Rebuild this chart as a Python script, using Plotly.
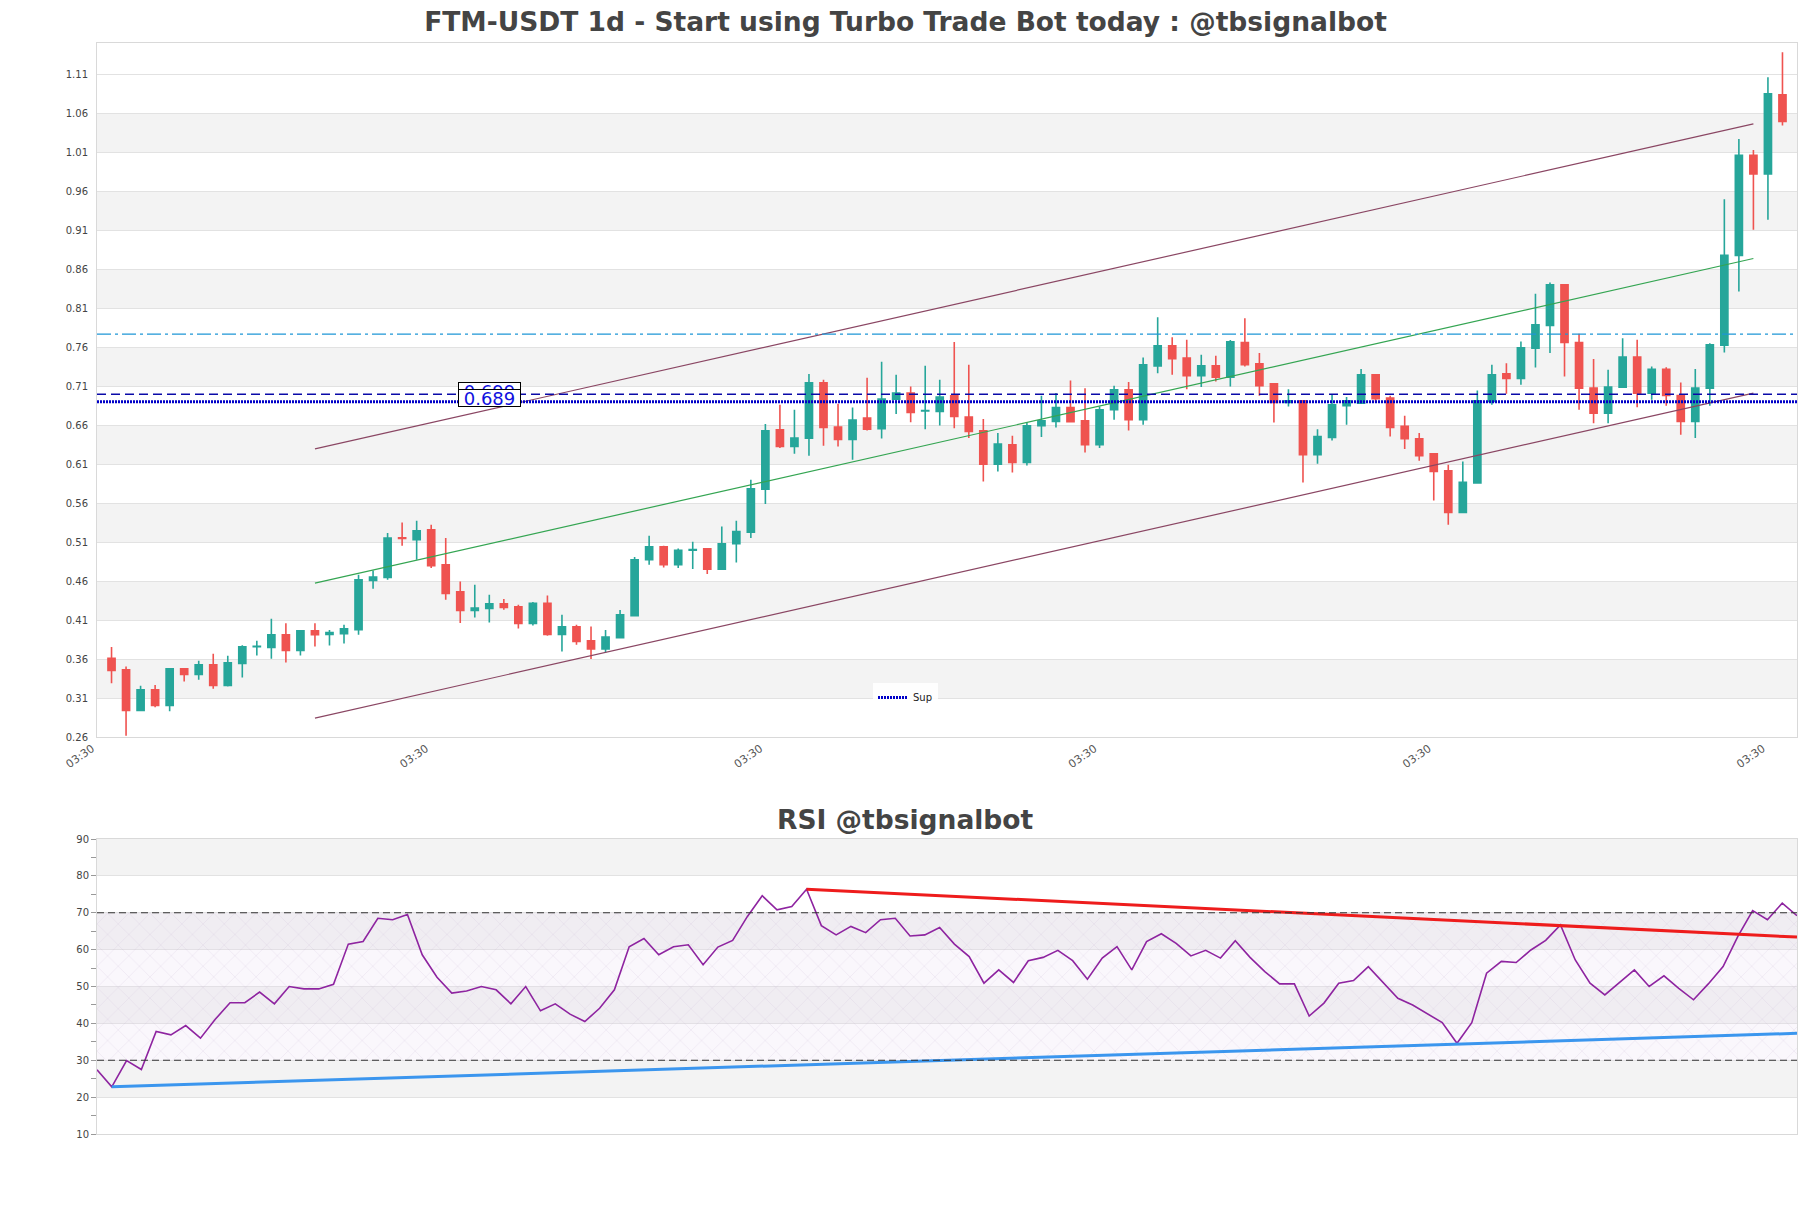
import pandas as pd
import plotly.graph_objects as go

# ---------------- data ----------------
start_date = "2023-11-14 03:30"
opens = [0.3610, 0.3463, 0.2942, 0.3206, 0.3006, 0.3475, 0.3403, 0.3527, 0.3262, 0.3544,
         0.3757, 0.3749, 0.3911, 0.3710, 0.3962, 0.3915, 0.3924, 0.3975, 0.4607, 0.4647,
         0.5155, 0.5130, 0.5258, 0.4809, 0.4463, 0.4223, 0.4248, 0.4309, 0.4271, 0.4057,
         0.4313, 0.3916, 0.4014, 0.3835, 0.3728, 0.3873, 0.4155, 0.4873, 0.5040, 0.4809,
         0.4995, 0.5014, 0.4753, 0.5078, 0.5228, 0.5779, 0.6540, 0.6326, 0.6433, 0.7142,
         0.6574, 0.6416, 0.6689, 0.6553, 0.6933, 0.7010, 0.6780, 0.6775, 0.6976, 0.6702,
         0.6527, 0.6100, 0.6347, 0.6121, 0.6591, 0.6647, 0.6826, 0.6655, 0.6347, 0.6796,
         0.7053, 0.6668, 0.7360, 0.7617, 0.7459, 0.7232, 0.7360, 0.7215, 0.7659, 0.7386,
         0.7130, 0.6890, 0.6912, 0.6219, 0.6442, 0.6848, 0.6882, 0.7245, 0.6946, 0.6583,
         0.6424, 0.6232, 0.6014, 0.5480, 0.5857, 0.6903, 0.7258, 0.7198, 0.7587, 0.7877,
         0.8399, 0.7659, 0.7074, 0.6753, 0.7087, 0.7471, 0.7010, 0.7317, 0.6980, 0.6647,
         0.7074, 0.7625, 0.8775, 1.0061, 0.9822, 1.0835]
highs = [0.3753, 0.3505, 0.3258, 0.3266, 0.3484, 0.3484, 0.3578, 0.3668, 0.3642, 0.3778,
         0.3834, 0.4116, 0.4060, 0.3971, 0.4060, 0.3971, 0.4039, 0.4680, 0.4735, 0.5215,
         0.5352, 0.5373, 0.5322, 0.5151, 0.4595, 0.4552, 0.4424, 0.4369, 0.4296, 0.4330,
         0.4416, 0.4168, 0.4040, 0.4018, 0.3971, 0.4228, 0.4907, 0.5181, 0.5053, 0.5018,
         0.5104, 0.5023, 0.5300, 0.5373, 0.5899, 0.6613, 0.6860, 0.6796, 0.7254, 0.7181,
         0.6873, 0.6826, 0.7206, 0.7411, 0.7245, 0.7095, 0.7360, 0.7181, 0.7664, 0.7373,
         0.6677, 0.6497, 0.6463, 0.6634, 0.6976, 0.7010, 0.7172, 0.7074, 0.6839, 0.7104,
         0.7151, 0.7467, 0.7984, 0.7728, 0.7694, 0.7501, 0.7488, 0.7690, 0.7971, 0.7523,
         0.7135, 0.7061, 0.6915, 0.6548, 0.6989, 0.6959, 0.7318, 0.7250, 0.6976, 0.6719,
         0.6497, 0.6241, 0.6091, 0.6134, 0.7044, 0.7373, 0.7394, 0.7672, 0.8283, 0.8430,
         0.8405, 0.7770, 0.7446, 0.7309, 0.7715, 0.7694, 0.7352, 0.7343, 0.7147, 0.7318,
         0.7651, 0.9497, 1.0270, 1.0129, 1.1061, 1.1381]
lows = [0.3290, 0.2617, 0.2929, 0.2980, 0.2929, 0.3313, 0.3334, 0.3219, 0.3249, 0.3364,
        0.3646, 0.3603, 0.3557, 0.3646, 0.3761, 0.3774, 0.3800, 0.3911, 0.4500, 0.4617,
        0.5053, 0.4873, 0.4766, 0.4360, 0.4061, 0.4134, 0.4069, 0.4232, 0.3993, 0.4031,
        0.3899, 0.3698, 0.3783, 0.3599, 0.3685, 0.3869, 0.4147, 0.4809, 0.4775, 0.4766,
        0.4753, 0.4689, 0.4753, 0.4839, 0.5151, 0.5587, 0.6305, 0.6232, 0.6206, 0.6335,
        0.6326, 0.6155, 0.6531, 0.6429, 0.6741, 0.6638, 0.6548, 0.6595, 0.6561, 0.6433,
        0.5877, 0.6005, 0.5993, 0.6083, 0.6446, 0.6570, 0.6634, 0.6249, 0.6305, 0.6668,
        0.6530, 0.6604, 0.7266, 0.7245, 0.7061, 0.7087, 0.7160, 0.7095, 0.7352, 0.6976,
        0.6634, 0.6839, 0.5865, 0.6104, 0.6403, 0.6604, 0.6869, 0.6890, 0.6454, 0.6292,
        0.6142, 0.5634, 0.5322, 0.5480, 0.5857, 0.6860, 0.7001, 0.7117, 0.7339, 0.7523,
        0.7224, 0.6796, 0.6625, 0.6625, 0.7087, 0.6830, 0.6924, 0.6848, 0.6476, 0.6433,
        0.6848, 0.7531, 0.8313, 0.9104, 0.9232, 1.0441]
closes = [0.3454, 0.2942, 0.3206, 0.3006, 0.3475, 0.3403, 0.3527, 0.3262, 0.3552, 0.3757,
          0.3762, 0.3911, 0.3710, 0.3962, 0.3911, 0.3941, 0.3988, 0.4615, 0.4650, 0.5151,
          0.5145, 0.5245, 0.4796, 0.4441, 0.4223, 0.4253, 0.4309, 0.4262, 0.4057, 0.4313,
          0.3916, 0.4014, 0.3826, 0.3728, 0.3882, 0.4168, 0.4873, 0.5040, 0.4809, 0.4993,
          0.5005, 0.4753, 0.5078, 0.5236, 0.5783, 0.6527, 0.6326, 0.6433, 0.7142, 0.6570,
          0.6416, 0.6664, 0.6548, 0.6933, 0.7010, 0.6762, 0.6785, 0.6959, 0.6711, 0.6518,
          0.6100, 0.6356, 0.6121, 0.6591, 0.6655, 0.6826, 0.6642, 0.6347, 0.6796, 0.7053,
          0.6668, 0.7373, 0.7617, 0.7450, 0.7232, 0.7360, 0.7215, 0.7668, 0.7373, 0.7104,
          0.6890, 0.6912, 0.6219, 0.6454, 0.6860, 0.6912, 0.7245, 0.6937, 0.6570, 0.6424,
          0.6206, 0.6006, 0.5480, 0.5865, 0.6912, 0.7245, 0.7198, 0.7591, 0.7886, 0.8399,
          0.7659, 0.7074, 0.6753, 0.7087, 0.7471, 0.7010, 0.7317, 0.6980, 0.6647, 0.7074,
          0.7630, 0.8779, 1.0061, 0.9822, 1.0847, 1.0493]
rsi = [27.4, 22.8, 29.9, 27.5, 37.8, 36.9, 39.4, 36.0, 41.1, 45.6,
       45.6, 48.5, 45.3, 50.0, 49.35, 49.35, 50.6, 61.5, 62.2, 68.5,
       68.1, 69.5, 58.6, 52.5, 48.2, 48.8, 50.0, 49.1, 45.3, 50.0,
       43.4, 45.3, 42.5, 40.5, 44.1, 49.1, 60.8, 63.0, 58.6, 60.8,
       61.3, 55.9, 60.7, 62.5, 69.0, 74.6, 70.8, 71.7, 76.4, 66.5,
       64.0, 66.3, 64.6, 68.1, 68.5, 63.7, 64.0, 66.0, 61.5, 58.1,
       50.9, 54.5, 51.1, 57.0, 57.9, 59.8, 57.0, 52.0, 57.7, 60.8,
       54.5, 62.2, 64.3, 61.7, 58.3, 59.8, 57.7, 62.4, 57.9, 54.05,
       50.7, 50.7, 42.0, 45.5, 50.9, 51.6, 55.4, 51.1, 46.8, 45.0,
       42.7, 40.2, 34.6, 40.2, 53.6, 56.8, 56.5, 59.9, 62.5, 66.7,
       57.2, 50.9, 47.7, 51.1, 54.5, 50.0, 52.9, 49.5, 46.4, 50.7,
       55.4, 63.6, 70.6, 68.1, 72.6, 69.2]

# channel lines (start index, end index and values)
channel_idx = [14, 113]
channel_upper = [0.6295, 1.0463]
channel_mid = [0.4573, 0.8736]
channel_lower = [0.2843, 0.7010]

# horizontal levels
level_cyan = 0.7766
level_res = 0.6995
level_sup = 0.6900
label_res = "0.699"
label_sup = "0.689"
label_idx = 26

# RSI trend lines
rsi_red_idx = [48, 115]
rsi_red_vals = [76.4, 63.4]
rsi_blue_idx = [1, 115]
rsi_blue_vals = [22.8, 37.3]

tick_step_days = 23
price_range = [0.26, 1.15]
price_tick0 = 0.26
price_dtick = 0.05
rsi_range = [10, 90]

# ---------------- figure ----------------
dates = pd.date_range(pd.Timestamp(start_date), periods=len(opens), freq="D")
day = pd.Timedelta(days=1)
x_lo = dates[0] - day
x_hi = dates[-1] + day
tickvals = [x_lo + pd.Timedelta(days=tick_step_days * k) for k in range(6)]

FONT = "DejaVu Sans"
W, H = 1811, 1208
ml, mr, mt, mb = 97, 14, 43, 74
ph = H - mt - mb
main_bottom = (H - mb - 737) / ph
rsi_top = (H - mb - 839) / ph

fig = go.Figure()

fig.add_trace(go.Candlestick(
    x=dates, open=opens, high=highs, low=lows, close=closes,
    increasing=dict(line=dict(color="#26a69a", width=1.6), fillcolor="#26a69a"),
    decreasing=dict(line=dict(color="#ef5350", width=1.6), fillcolor="#ef5350"),
    showlegend=False, xaxis="x", yaxis="y", name="FTM-USDT"))

chan_x = [dates[i] for i in channel_idx]
for vals, col in [(channel_upper, "#8a4663"), (channel_mid, "#34a552"), (channel_lower, "#8a4663")]:
    fig.add_trace(go.Scatter(x=chan_x, y=vals, mode="lines",
                             line=dict(color=col, width=1.2),
                             showlegend=False, hoverinfo="skip", xaxis="x", yaxis="y"))

fig.add_trace(go.Scatter(x=[x_lo, x_hi], y=[level_sup, level_sup], mode="lines",
                         line=dict(color="#0000c8", width=3, dash="2px,1px"),
                         name="Sup", showlegend=True, xaxis="x", yaxis="y"))

# RSI hatch
fig.add_trace(go.Scatter(x=[dates[0], dates[-1], dates[-1], dates[0], dates[0]],
                         y=[30, 30, 70, 70, 30], mode="lines", fill="toself",
                         fillcolor="rgba(230,215,240,0.2)",
                         fillpattern=dict(shape="x", fgcolor="rgba(185,160,205,0.6)",
                                          size=15, solidity=0.06, fillmode="overlay"),
                         line=dict(width=0), showlegend=False, hoverinfo="skip",
                         xaxis="x2", yaxis="y2"))

fig.add_trace(go.Scatter(x=dates, y=rsi, mode="lines",
                         line=dict(color="#8e24a0", width=1.6),
                         showlegend=False, xaxis="x2", yaxis="y2", name="RSI"))
fig.add_trace(go.Scatter(x=[dates[i] for i in rsi_red_idx], y=rsi_red_vals, mode="lines",
                         line=dict(color="#ee1c1c", width=3),
                         showlegend=False, hoverinfo="skip", xaxis="x2", yaxis="y2"))
fig.add_trace(go.Scatter(x=[dates[i] for i in rsi_blue_idx], y=rsi_blue_vals, mode="lines",
                         line=dict(color="#3b96ee", width=3),
                         showlegend=False, hoverinfo="skip", xaxis="x2", yaxis="y2"))

shapes = []
# price bands
k = 0
while price_tick0 + price_dtick * (2 * k + 1) < price_range[1] - price_dtick:
    y0 = price_tick0 + price_dtick * (2 * k + 1)
    shapes.append(dict(type="rect", xref="x domain", yref="y", x0=0, x1=1,
                       y0=y0, y1=y0 + price_dtick, fillcolor="#f3f3f3",
                       line=dict(width=0), layer="below"))
    k += 1
for y0 in [20, 40, 60, 80]:
    shapes.append(dict(type="rect", xref="x2 domain", yref="y2", x0=0, x1=1,
                       y0=y0, y1=y0 + 10, fillcolor="#f3f3f3",
                       line=dict(width=0), layer="below"))
shapes.append(dict(type="line", xref="x domain", yref="y", x0=0, x1=1,
                   y0=level_cyan, y1=level_cyan,
                   line=dict(color="#1e96d6", width=1.3, dash="14px,4px,3px,4px")))
shapes.append(dict(type="line", xref="x domain", yref="y", x0=0, x1=1,
                   y0=level_res, y1=level_res,
                   line=dict(color="#0a0aa8", width=1.5, dash="9px,5px")))
for lv in [30, 70]:
    shapes.append(dict(type="line", xref="x2 domain", yref="y2", x0=0, x1=1,
                       y0=lv, y1=lv, line=dict(color="#333333", width=1.2, dash="7px,4px")))

annotations = [
    dict(x=dates[label_idx], y=level_res + 0.0048, xref="x", yref="y", text=label_res,
         showarrow=False, font=dict(family=FONT, size=18, color="#1010e0"),
         width=61, height=16, align="center",
         bgcolor="white", bordercolor="black", borderwidth=1, borderpad=0),
    dict(x=dates[label_idx], y=level_sup + 0.005, xref="x", yref="y", text=label_sup,
         showarrow=False, font=dict(family=FONT, size=18, color="#1010e0"),
         width=61, height=16, align="center",
         bgcolor="white", bordercolor="black", borderwidth=1, borderpad=0),
    dict(x=(W / 2 - ml) / (W - ml - mr), y=(H - mb - 819) / ph, xref="paper", yref="paper",
         text="<b>RSI @tbsignalbot</b>", showarrow=False, xanchor="center", yanchor="middle",
         font=dict(family=FONT, size=26.5, color="#444444")),
]

axis_common = dict(showline=True, mirror=True, linecolor="#d9d9d9", linewidth=1,
                   zeroline=False)

fig.update_layout(
    width=W, height=H,
    margin=dict(l=ml, r=mr, t=mt, b=mb),
    paper_bgcolor="white", plot_bgcolor="white",
    font=dict(family=FONT, size=10, color="#444444"),
    title=dict(text="<b>FTM-USDT 1d - Start using Turbo Trade Bot today : @tbsignalbot</b>",
               x=0.5, xanchor="center", y=1 - 22 / H, yanchor="middle",
               font=dict(family=FONT, size=26.5, color="#444444")),
    xaxis=dict(domain=[0, 1], anchor="y", type="date", range=[x_lo, x_hi],
               rangeslider=dict(visible=False), showgrid=False,
               tickmode="array", tickvals=tickvals, tickformat="%H:%M",
               tickangle=-35, tickfont=dict(size=11, color="#555555"),
               ticklabelshift=-5, ticks="", **axis_common),
    yaxis=dict(domain=[main_bottom, 1], anchor="x", range=price_range,
               tick0=price_tick0, dtick=price_dtick, tickformat=".2f",
               showgrid=True, gridcolor="#e2e2e2", gridwidth=1,
               ticks="outside", ticklen=6, tickcolor="rgba(0,0,0,0)",
               tickfont=dict(size=10, color="#444444"), **axis_common),
    xaxis2=dict(domain=[0, 1], anchor="y2", type="date", range=[dates[0], dates[-1]],
                showticklabels=False, showgrid=False, ticks="", **axis_common),
    yaxis2=dict(domain=[0, rsi_top], anchor="x2", range=rsi_range,
                tick0=10, dtick=10, showgrid=True, gridcolor="#e2e2e2",
                ticks="outside", ticklen=5, tickcolor="#999999",
                minor=dict(dtick=5, ticks="outside", ticklen=5, tickcolor="#999999",
                           showgrid=False),
                tickfont=dict(size=10, color="#444444"), **axis_common),
    shapes=shapes,
    annotations=annotations,
    legend=dict(x=(W / 2 - ml) / (W - ml - mr), xanchor="center",
                y=(H - mb - 712) / ph, yanchor="bottom",
                bgcolor="rgba(255,255,255,0.85)", font=dict(size=10, color="#222222"),
                itemwidth=30),
    showlegend=True,
)

fig.write_html("out.html", config={"displayModeBar": False},
               post_script="document.body.style.margin='0px';document.body.style.overflow='hidden';")
